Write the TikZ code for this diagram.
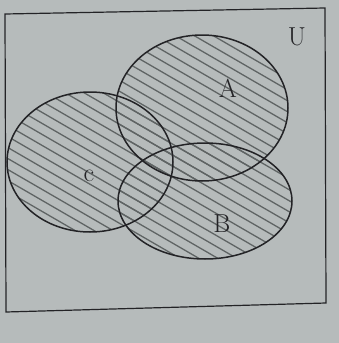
\documentclass[tikz,border=0pt]{standalone}
\usetikzlibrary{shapes.geometric}
\definecolor{paper}{RGB}{182,187,187}
\definecolor{ink}{RGB}{35,35,38}
\definecolor{hatch}{RGB}{95,100,100}
\tikzset{
  setline/.style={draw=ink, line width=1.5pt},
  hatchline/.style={draw=hatch, line width=1.3pt},
  lbl/.style={text=ink, font=\fontsize{26}{26}\selectfont},
}
\newcommand{\hatchfill}{%
  \foreach \c in {-220,-209,...,350} {
    \draw[hatchline] (-10,{-10*0.58+\c}) -- (350,{350*0.58+\c});
  }}
\begin{document}
\begin{tikzpicture}[x=1pt,y=-1pt]
\fill[paper] (0,0) rectangle (339,343);
\useasboundingbox (0,0) rectangle (339,343);
% hatching in the union of the three sets
\begin{scope}
  \clip (202,108) ellipse [x radius=86, y radius=73];
  \hatchfill
\end{scope}
\begin{scope}
  \clip (90,162) ellipse [x radius=83, y radius=70];
  \hatchfill
\end{scope}
\begin{scope}
  \clip (205,201) ellipse [x radius=87, y radius=58];
  \hatchfill
\end{scope}
% universe
\draw[setline, line width=1.2pt] (5,14) -- (325,8) -- (326,303) -- (6,312) -- cycle;
% sets
\node[setline, ellipse, minimum width=172pt, minimum height=146pt, inner sep=0pt] (A) at (202,108) {};
\node[setline, ellipse, minimum width=166pt, minimum height=140pt, inner sep=0pt] (C) at (90,162) {};
\node[setline, ellipse, minimum width=174pt, minimum height=116pt, inner sep=0pt] (B) at (205,201) {};
% labels
\node[lbl] (la) at (228,88) {A};
\node[lbl] (lb) at (222,224) {B};
\node[lbl] (lc) at (89,176) {c};
\node[lbl] (lu) at (297,37) {U};
\end{tikzpicture}
\end{document}
